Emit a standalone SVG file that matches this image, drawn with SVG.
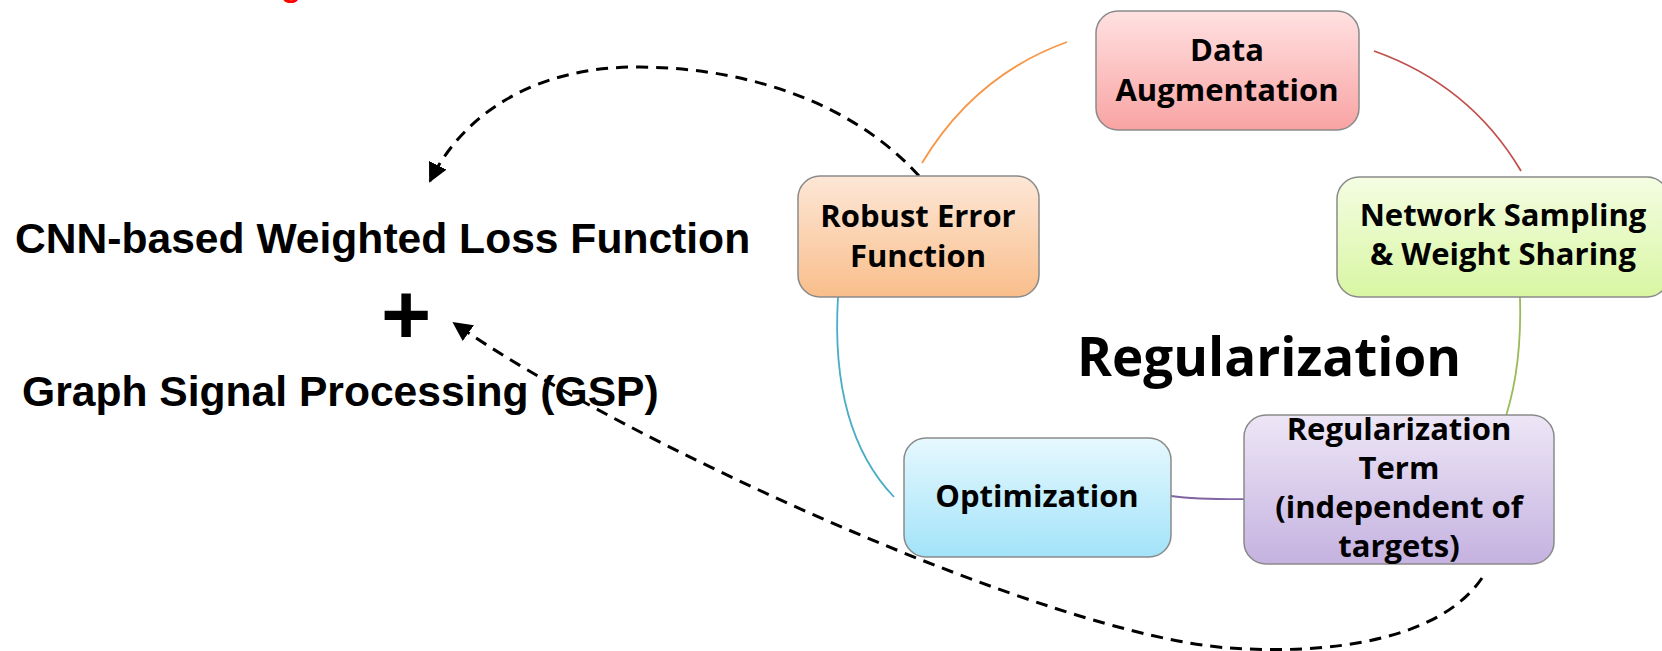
<svg xmlns="http://www.w3.org/2000/svg" width="1662" height="651" viewBox="0 0 1662 651">
  <defs>
    <linearGradient id="gRed" x1="0" y1="0" x2="0" y2="1">
      <stop offset="0" stop-color="#ffe1e1"/>
      <stop offset="1" stop-color="#f9a3a3"/>
    </linearGradient>
    <linearGradient id="gOrange" x1="0" y1="0" x2="0" y2="1">
      <stop offset="0" stop-color="#fde7d7"/>
      <stop offset="1" stop-color="#f9be8b"/>
    </linearGradient>
    <linearGradient id="gGreen" x1="0" y1="0" x2="0" y2="1">
      <stop offset="0" stop-color="#f4fde2"/>
      <stop offset="1" stop-color="#d8f6a3"/>
    </linearGradient>
    <linearGradient id="gBlue" x1="0" y1="0" x2="0" y2="1">
      <stop offset="0" stop-color="#e6f8fe"/>
      <stop offset="1" stop-color="#a2e3f9"/>
    </linearGradient>
    <linearGradient id="gPurple" x1="0" y1="0" x2="0" y2="1">
      <stop offset="0" stop-color="#ede6f6"/>
      <stop offset="1" stop-color="#c5b2e0"/>
    </linearGradient>
    <marker id="arrow" viewBox="0 0 10 10" refX="9" refY="5" markerWidth="6.5" markerHeight="6.5" markerUnits="strokeWidth" orient="auto">
      <path d="M0,0 L10,5 L0,10 z" fill="#000"/>
    </marker>
  </defs>
  <style>
    .box { stroke: #8a8a8a; stroke-width: 1.5; }
    .lbl { font-family: "Open Sans", "Noto Sans", sans-serif; font-weight: bold; font-size: 31px; fill: #000; text-anchor: middle; }
    .side { font-family: "Liberation Sans", Arial, sans-serif; font-weight: bold; font-size: 42.6px; fill: #000; }
    .plus { font-family: "Liberation Sans", Arial, sans-serif; font-weight: bold; font-size: 86px; fill: #000; text-anchor: middle; }
    .cyc { fill: none; stroke-width: 1.8; }
    .dash { fill: none; stroke: #000; stroke-width: 3; stroke-dasharray: 12 8; }
  </style>

  <rect width="1662" height="651" fill="#fff"/>

  <!-- red heading, mostly above the top edge -->
  <text x="280" y="-5" font-family="Liberation Sans, Arial, sans-serif" font-size="40" fill="#ff0000">g</text>

  <!-- left-hand labels -->
  <g id="loss-text">
    <text class="side" x="15" y="253">CNN-based Weighted Loss Function</text>
    <text class="plus" x="406" y="344">+</text>
    <text class="side" x="22" y="406">Graph Signal Processing (GSP)</text>
  </g>

  <!-- cycle connectors and dashed feedback arrows -->
  <g id="connectors">
    <path class="cyc" stroke="#f79646" d="M922,163 Q975,75 1067,42"/>
    <path class="cyc" stroke="#c0504d" d="M1374,51 Q1470,85 1521,171"/>
    <path class="cyc" stroke="#9bbb59" d="M1520,297 Q1522,365 1506,416"/>
    <path class="cyc" stroke="#4bacc6" d="M838,297 Q830,430 894,497"/>
    <path class="cyc" stroke="#8064a2" d="M1171,496 Q1200,500 1263,499"/>
    <path class="dash" marker-end="url(#arrow)" d="M919,176 C860,110 760,68 640,67 C540,66 465,110 430,181"/>
    <path class="dash" marker-end="url(#arrow)" d="M1482,578 C1440,640 1330,655 1230,648 C1050,636 620,440 454,323"/>
  </g>

  <g id="data-augmentation">
    <rect class="box" x="1096" y="11" width="263" height="119" rx="22" fill="url(#gRed)"/>
    <text class="lbl" x="1227" y="61">Data</text>
    <text class="lbl" x="1227" y="101">Augmentation</text>
  </g>

  <g id="robust-error-function">
    <rect class="box" x="798" y="176" width="241" height="121" rx="22" fill="url(#gOrange)"/>
    <text class="lbl" x="918" y="227">Robust Error</text>
    <text class="lbl" x="918" y="267">Function</text>
  </g>

  <g id="network-sampling">
    <rect class="box" x="1337" y="177" width="332" height="120" rx="22" fill="url(#gGreen)"/>
    <text class="lbl" x="1503" y="226">Network Sampling</text>
    <text class="lbl" x="1503" y="265">&amp; Weight Sharing</text>
  </g>

  <g id="optimization">
    <rect class="box" x="904" y="438" width="267" height="119" rx="22" fill="url(#gBlue)"/>
    <text class="lbl" x="1037" y="507">Optimization</text>
  </g>

  <g id="regularization-term">
    <rect class="box" x="1244" y="415" width="310" height="149" rx="22" fill="url(#gPurple)"/>
    <text class="lbl" x="1399" y="440">Regularization</text>
    <text class="lbl" x="1399" y="479">Term</text>
    <text class="lbl" x="1399" y="518">(independent of</text>
    <text class="lbl" x="1399" y="557">targets)</text>
  </g>

  <g id="regularization-title">
    <text x="1269" y="376" font-family="Open Sans, Noto Sans, sans-serif" font-weight="bold" font-size="53" text-anchor="middle" fill="#000">Regularization</text>
  </g>
</svg>
